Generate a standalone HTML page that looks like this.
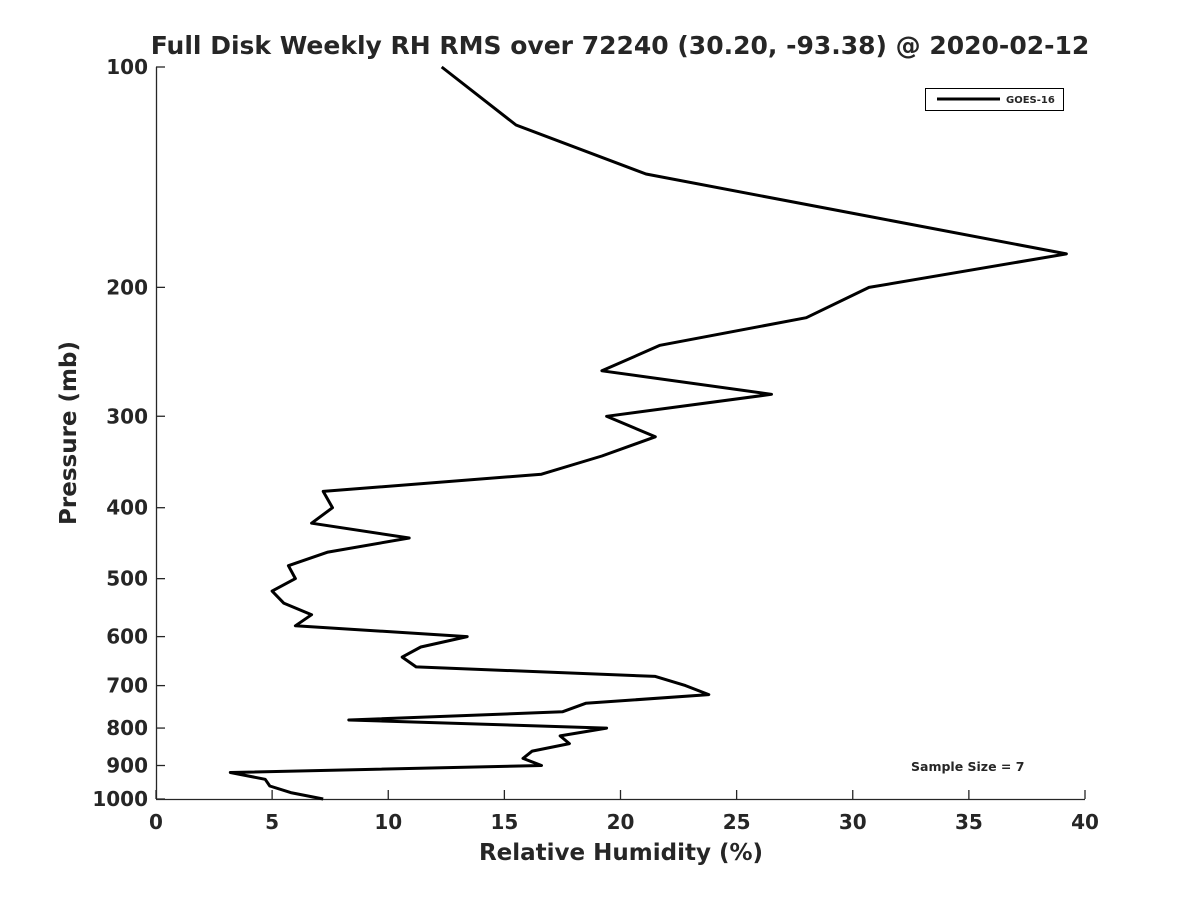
<!DOCTYPE html>
<html><head><meta charset="utf-8"><style>
body{margin:0;background:#fff;width:1200px;height:900px;overflow:hidden}
text{font-family:"DejaVu Sans","Liberation Sans",sans-serif;fill:#262626}
</style></head><body>
<svg id="chart" width="1200" height="900">
<text x="620" y="54" text-anchor="middle" font-size="25" font-weight="bold">Full Disk Weekly RH RMS over 72240 (30.20, -93.38) @ 2020-02-12</text>
<g id="axes"></g>
<path id="line" fill="none" stroke="#000" stroke-width="3" stroke-linejoin="round"/>
<text x="621" y="860" text-anchor="middle" font-size="23" font-weight="bold">Relative Humidity (%)</text>
<text transform="translate(76,433) rotate(-90)" text-anchor="middle" font-size="23" font-weight="bold">Pressure (mb)</text>
<g>
<rect x="925.5" y="88.5" width="138" height="22" fill="#fff" stroke="#000" stroke-width="1"/>
<line x1="937" y1="99" x2="1000" y2="99" stroke="#000" stroke-width="3"/>
<text x="1006" y="103" font-size="10" font-weight="bold">GOES-16</text>
</g>
<text x="911" y="771" font-size="12.5" font-weight="bold">Sample Size = 7</text>
</svg>
<script>
const pressures=[100,120,140,160,180,200,220,240,260,280,300,320,340,360,380,400,420,440,460,480,500,520,540,560,580,600,620,640,660,680,700,720,740,760,780,800,820,840,860,880,900,920,940,960,980,1000];
const rhRms=[12.3,15.5,21.1,30.7,39.2,30.7,28.0,21.7,19.2,26.5,19.4,21.5,19.2,16.6,7.2,7.6,6.7,10.9,7.4,5.7,6.0,5.0,5.5,6.7,6.0,13.4,11.4,10.6,11.2,21.5,22.8,23.8,18.5,17.5,8.3,19.4,17.4,17.8,16.2,15.8,16.6,3.2,4.7,4.9,5.8,7.2];
const xTicks=[0,5,10,15,20,25,30,35,40];
const yTicks=[100,200,300,400,500,600,700,800,900,1000];
const X=v=>156+v*(1085-156)/40;
const Y=p=>67+Math.log10(p/100)*732;
const ns="http://www.w3.org/2000/svg";
const ax=document.getElementById('axes');
function mk(t,a,txt){const e=document.createElementNS(ns,t);for(const k in a)e.setAttribute(k,a[k]);if(txt!==undefined)e.textContent=txt;ax.appendChild(e);return e;}
const xl=mk('line',{x1:156,y1:799.5,x2:1085,y2:799.5,stroke:'#262626','stroke-width':1.3});


const yl=mk('line',{x1:156.5,y1:67,x2:156.5,y2:799,stroke:'#262626','stroke-width':1.3});


xTicks.forEach(v=>{const x=X(v);mk('line',{x1:x,y1:799,x2:x,y2:790,stroke:'#262626','stroke-width':1.3});
const t=mk('text',{x:x,y:829,'text-anchor':'middle','font-size':20,'font-weight':'bold'},v);

});
yTicks.forEach(p=>{const y=Y(p);mk('line',{x1:156,y1:y,x2:165,y2:y,stroke:'#262626','stroke-width':1.3});
const t=mk('text',{x:148,y:y+7,'text-anchor':'end','font-size':20,'font-weight':'bold'},p);

});
document.getElementById('line').setAttribute('d',pressures.map((p,i)=>(i?'L':'M')+X(rhRms[i]).toFixed(1)+','+Y(p).toFixed(1)).join(''));
</script>
</body></html>
